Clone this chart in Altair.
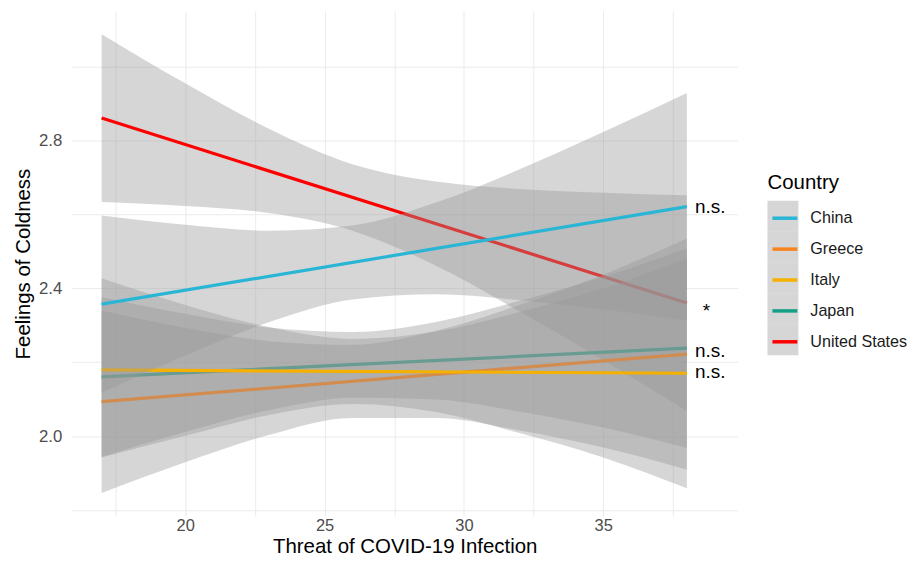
import altair as alt
import pandas as pd

countries = ["China", "Greece", "Italy", "Japan", "United States"]
colors = ["#29B6D6", "#F8841F", "#F5B000", "#15A085", "#FF0000"]
draw_order = ["United States", "Japan", "Greece", "Italy", "China"]

# confidence band edges read at these x values
band_x = [17, 20, 23, 26, 29, 32, 35, 38]
band_lower = {
    "China":         [2.117, 2.218, 2.308, 2.370, 2.384, 2.368, 2.343, 2.313],
    "Greece":        [1.846, 1.929, 2.003, 2.049, 2.049, 2.015, 1.969, 1.909],
    "Italy":         [1.942, 2.001, 2.057, 2.087, 2.065, 2.008, 1.942, 1.859],
    "Japan":         [1.944, 2.011, 2.070, 2.104, 2.099, 2.066, 2.023, 1.968],
    "United States": [2.634, 2.623, 2.604, 2.556, 2.461, 2.337, 2.205, 2.068],
}
band_upper = {
    "China":         [2.597, 2.572, 2.556, 2.570, 2.632, 2.722, 2.823, 2.929],
    "Greece":        [2.340, 2.293, 2.257, 2.247, 2.285, 2.355, 2.437, 2.535],
    "Italy":         [2.427, 2.355, 2.295, 2.263, 2.283, 2.336, 2.400, 2.481],
    "Japan":         [2.376, 2.331, 2.294, 2.282, 2.309, 2.366, 2.431, 2.508],
    "United States": [3.088, 2.955, 2.832, 2.736, 2.689, 2.669, 2.659, 2.652],
}

# fitted lines (end points)
fit_x = [17, 38]
fit_y = {
    "China":         [2.357, 2.621],
    "Greece":        [2.093, 2.222],
    "Italy":         [2.179, 2.170],
    "Japan":         [2.160, 2.238],
    "United States": [2.861, 2.360],
}

note_text = ["n.s.", "*", "n.s.", "n.s."]
note_x = [38.29, 38.57, 38.29, 38.29]
note_y = [2.621, 2.339, 2.231, 2.173]

x_ticks = [17.5, 20, 22.5, 25, 27.5, 30, 32.5, 35, 37.5]
y_ticks = [1.8, 2.0, 2.2, 2.4, 2.6, 2.8, 3.0]

band_rows = []
for c in countries:
    for xv, lo, hi in zip(band_x, band_lower[c], band_upper[c]):
        band_rows.append({"Country": c, "Key": c, "x": xv, "lo": lo, "hi": hi})
band_df = pd.DataFrame(band_rows)

line_rows = []
for c in countries:
    for xv, yv in zip(fit_x, fit_y[c]):
        line_rows.append({"Country": c, "x": xv, "y": yv})
line_df = pd.DataFrame(line_rows)

note_df = pd.DataFrame({"label": note_text, "x": note_x, "y": note_y})

FONT = "Liberation Sans"

x_scale = alt.Scale(domain=[15.93, 39.82], nice=False, zero=False)
y_scale = alt.Scale(domain=[1.783, 3.151], nice=False, zero=False)

x_axis = alt.Axis(
    title="Threat of COVID-19 Infection",
    values=x_ticks,
    labelExpr="datum.value % 5 === 0 ? datum.label : ''",
    labelFontSize=16.5,
    labelPadding=1.5,
    titlePadding=2.5,
    labelOverlap=False,
    labelFlush=False,
)
y_axis = alt.Axis(
    title="Feelings of Coldness",
    values=y_ticks,
    format=".1f",
    labelExpr="round(datum.value * 10) % 4 === 0 ? datum.label : ''",
    labelPadding=10,
    titlePadding=5,
    labelOverlap=False,
)

common_legend = dict(
    orient="none",
    legendX=698,
    legendY=163,
    padding=0,
    title="Country",
    titleFont=FONT,
    titleFontSize=20.5,
    titleFontWeight="normal",
    titlePadding=7,
    labelFont=FONT,
    labelFontSize=16.2,
    labelColor="#1A1A1A",
)

fill_legend = alt.Legend(
    titleColor="transparent",
    labelExpr="''",
    symbolType="square",
    symbolStrokeWidth=0,
    symbolSize=961,
    rowPadding=0,
    zindex=0,
    **common_legend,
)
stroke_legend = alt.Legend(
    titleColor="#000000",
    symbolType="M-0.806,0H0.806",
    symbolStrokeWidth=3.5,
    symbolSize=961,
    labelOffset=8,
    rowPadding=5,
    zindex=1,
    **common_legend,
)

layers = []
for c in draw_order:
    band = (
        alt.Chart(band_df)
        .transform_filter(alt.datum.Country == c)
        .mark_area(opacity=0.4, interpolate="monotone")
        .encode(
            x=alt.X("x:Q", scale=x_scale, axis=x_axis),
            y=alt.Y("lo:Q", scale=y_scale, axis=y_axis),
            y2="hi:Q",
            fill=alt.Fill(
                "Key:N",
                scale=alt.Scale(domain=countries, range=["#999999"] * 5),
                legend=fill_legend,
            ),
        )
    )
    line = (
        alt.Chart(line_df)
        .transform_filter(alt.datum.Country == c)
        .mark_line(strokeWidth=3.2)
        .encode(
            x=alt.X("x:Q", scale=x_scale, axis=x_axis),
            y=alt.Y("y:Q", scale=y_scale, axis=y_axis),
            color=alt.Color("Country:N", scale=alt.Scale(range=colors), legend=stroke_legend),
        )
    )
    layers.extend([band, line])

notes = (
    alt.Chart(note_df)
    .mark_text(align="left", baseline="middle", font=FONT, fontSize=19, color="#000000")
    .encode(
        x=alt.X("x:Q", scale=x_scale, axis=x_axis),
        y=alt.Y("y:Q", scale=y_scale, axis=y_axis),
        text="label:N",
    )
)
layers.append(notes)

chart = (
    alt.layer(*layers)
    .properties(width=668, height=507, padding={"left": 5, "top": 2, "right": 0, "bottom": 0}, background="white")
    .configure_view(stroke=None)
    .configure_axis(
        labelFont=FONT,
        labelFontSize=16.8,
        labelColor="#4D4D4D",
        titleFont=FONT,
        titleFontSize=20.5,
        titleFontWeight="normal",
        titleColor="#000000",
        grid=True,
        gridColor="#EBEBEB",
        gridWidth=1,
        ticks=False,
        domain=False,
    )
)

chart.save("out.html", embed_options={"renderer": "svg", "actions": False})
